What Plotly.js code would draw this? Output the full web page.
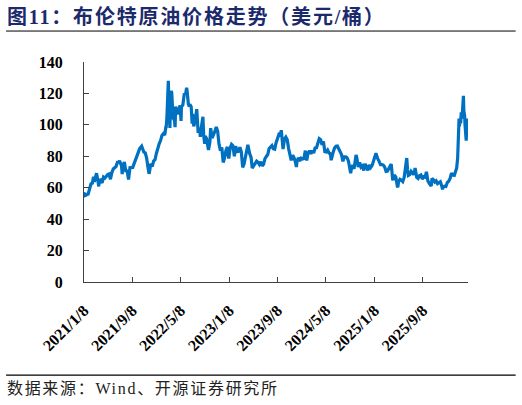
<!DOCTYPE html>
<html>
<head>
<meta charset="utf-8">
<script src="https://cdn.plot.ly/plotly-3.0.1.min.js"></script>
<style>
  html, body { margin: 0; padding: 0; background: #fff; }
  #chart { width: 522px; height: 405px; }
</style>
</head>
<body>
<div id="chart"></div>
<script>
// ---- Data: Brent crude price (USD/bbl) ----
const d2021 = ["01-08","01-13","01-15","01-22","01-29","02-05","02-12","02-19","02-25","03-01","03-08","03-12","03-19","03-23","03-26","04-01","04-09","04-16","04-23","04-30","05-07","05-14","05-21","05-28","06-04","06-11","06-18","06-25","07-02","07-06","07-09","07-16","07-19","07-23","07-30","08-06","08-13","08-20","08-27","09-03","09-10","09-17","09-24","10-01","10-08","10-15","10-25","10-29","11-05","11-12","11-19","11-26","12-01","12-03","12-10","12-17","12-24","12-31"];
const p2021 = [56.0,56.6,55.1,55.4,55.9,59.3,62.4,62.9,67.0,63.7,68.2,69.2,64.5,60.8,64.6,64.9,63.0,66.8,66.1,67.3,68.3,68.7,65.4,69.6,71.9,72.7,73.5,76.2,76.2,77.2,75.6,73.6,68.6,74.1,76.3,70.7,70.6,65.2,72.7,72.6,72.9,75.3,78.1,79.3,82.4,84.9,86.4,84.4,82.7,82.2,78.9,72.7,68.9,69.9,75.2,73.5,76.9,77.8];

const d2022 = ["01-07","01-14","01-21","01-28","02-04","02-11","02-18","02-24","02-25","03-01","03-04","03-08","03-11","03-16","03-18","03-23","03-25","04-01","04-08","04-11","04-14","04-22","04-29","05-06","05-11","05-13","05-20","05-27","06-03","06-08","06-10","06-17","06-22","06-24","07-01","07-06","07-08","07-14","07-22","07-29","08-05","08-12","08-16","08-19","08-29","09-02","09-07","09-09","09-16","09-23","09-26","10-03","10-07","10-14","10-21","10-28","11-04","11-11","11-18","11-25","12-02","12-09","12-16","12-23","12-30"];
const p2022 = [81.8,86.1,87.9,90.0,93.3,94.4,93.5,99.1,97.9,105.0,118.1,128.0,112.7,98.0,107.9,121.6,120.7,104.4,102.8,98.5,111.7,106.7,109.3,112.4,102.5,111.6,112.6,119.4,119.7,123.6,122.0,113.1,111.7,113.1,111.6,100.7,107.0,99.1,103.2,110.0,94.9,98.2,92.3,96.7,105.1,93.0,88.0,92.8,91.4,86.2,84.1,88.9,97.9,91.6,93.5,95.8,98.6,96.0,87.6,83.6,85.6,76.1,79.0,83.9,85.9];

const d2023 = ["01-06","01-13","01-20","01-27","02-03","02-10","02-17","02-24","03-03","03-10","03-17","03-24","03-31","04-06","04-12","04-21","04-28","05-04","05-12","05-19","05-26","06-02","06-09","06-16","06-23","06-30","07-07","07-14","07-21","07-28","08-04","08-11","08-18","08-25","09-01","09-08","09-15","09-22","09-27","10-06","10-13","10-20","10-27","11-03","11-10","11-16","11-24","12-01","12-08","12-12","12-15","12-22","12-29"];
const p2023 = [78.6,85.3,87.6,86.7,80.0,86.4,83.0,83.2,85.8,82.8,73.0,75.0,79.8,85.1,87.3,81.7,79.5,72.5,74.2,75.6,76.9,76.1,74.8,76.6,73.9,74.9,78.5,79.9,81.1,85.0,86.2,86.8,84.8,84.5,88.6,90.7,93.9,93.3,96.6,84.6,90.9,92.2,90.5,84.9,81.4,77.4,80.6,78.9,75.8,73.2,76.6,79.1,77.0];

const d2024 = ["01-05","01-12","01-19","01-26","02-02","02-09","02-16","02-23","03-01","03-08","03-15","03-22","03-28","04-05","04-12","04-19","04-26","05-03","05-10","05-17","05-24","05-31","06-04","06-07","06-14","06-21","06-28","07-05","07-12","07-19","07-26","08-02","08-09","08-16","08-23","08-30","09-06","09-10","09-13","09-20","09-27","10-04","10-07","10-11","10-18","10-25","11-01","11-08","11-15","11-22","11-29","12-06","12-13","12-20","12-27"];
const p2024 = [78.8,78.3,78.6,83.6,77.3,82.2,83.5,81.6,83.6,82.1,85.3,85.4,87.5,91.2,90.5,87.3,89.5,83.0,82.8,84.0,82.1,81.6,77.5,79.6,82.6,85.2,86.4,86.5,85.0,82.6,81.1,76.8,79.7,79.7,79.0,76.9,71.1,69.2,71.6,74.5,72.0,78.1,80.9,79.0,73.1,76.1,73.1,73.9,71.0,75.2,72.9,71.1,74.5,72.9,74.2];

const d2025 = ["01-03","01-10","01-15","01-17","01-24","01-31","02-07","02-14","02-21","02-28","03-07","03-14","03-21","03-28","04-02","04-09","04-11","04-17","04-25","05-02","05-05","05-09","05-16","05-23","05-30","06-06","06-13","06-19","06-23","06-27","07-04","07-11","07-18","07-25","07-31","08-08","08-15","08-22","08-29","09-05","09-12","09-19","09-26","10-03","10-10","10-17","10-20","10-24","10-31","11-07","11-14","11-21","11-28","12-05","12-12","12-16","12-19","12-26"];
const p2025 = [76.5,79.8,82.0,81.0,78.5,76.8,74.7,74.7,74.4,73.2,70.4,70.6,72.2,73.6,75.0,65.5,64.8,68.0,66.9,61.3,60.2,63.9,65.4,64.8,63.9,66.5,74.2,78.9,71.5,67.8,68.3,70.4,69.3,68.4,72.5,66.6,65.9,67.7,68.1,65.5,67.0,66.7,70.1,64.5,62.7,61.3,61.0,65.9,65.1,63.6,64.4,62.6,63.2,63.8,61.1,58.9,60.5,61.0];

const d2026 = ["01-02","01-09","01-16","01-23","01-30","02-06","02-13","02-20","02-25","03-02","03-04","03-06","03-09","03-11","03-13","03-17","03-20","03-24","03-27","03-31","04-02","04-06","04-08","04-10","04-14","04-16","04-20","04-22"];
const p2026 = [60.8,63.3,64.1,65.9,69.3,68.0,67.8,71.5,72.5,79.0,88.0,97.0,104.0,99.0,103.0,101.0,108.0,104.0,112.0,118.5,109.0,106.0,100.0,95.0,90.0,97.0,104.0,101.0];

const tickDates  = ["2021-01-08","2021-09-08","2022-05-08","2023-01-08","2023-09-08","2024-05-08","2025-01-08","2025-09-08"];
const tickLabels = ["2021/1/8","2021/9/8","2022/5/8","2023/1/8","2023/9/8","2024/5/8","2025/1/8","2025/9/8"];

const titleText  = "图11：布伦特原油价格走势（美元/桶）";
const sourceText = "数据来源：Wind、开源证券研究所";

// ---- Assemble series ----
const years = [[2021,d2021,p2021],[2022,d2022,p2022],[2023,d2023,p2023],[2024,d2024,p2024],[2025,d2025,p2025],[2026,d2026,p2026]];
const xs = [], ys = [];
years.forEach(([yr, ds, ps]) => { ds.forEach((d, i) => { xs.push(yr + "-" + d); ys.push(ps[i]); }); });

// ---- Layout geometry (pixels) ----
const W = 522, H = 405;
const L = 84, R = 468.3, T = 62, B = 282.3;
const px2x = px => (px - L) / (R - L);
const py2y = py => (B - py) / (B - T);

const serifCJK = "'Liberation Serif', 'Times New Roman', 'Noto Sans CJK SC', serif";

const trace = {
  x: xs, y: ys, type: "scatter", mode: "lines",
  line: { color: "#0070C0", width: 3.2 },
  cliponaxis: false,
  hoverinfo: "skip"
};

const axisCommon = {
  showline: true, linecolor: "#404040", linewidth: 1,
  ticks: "inside", ticklen: 5, tickcolor: "#404040", tickwidth: 1,
  showgrid: false, zeroline: false, automargin: false,
  tickfont: { family: "'Liberation Serif', 'Times New Roman', serif", size: 16, color: "#000", weight: "bold" }
};

const layout = {
  width: W, height: H,
  margin: { l: L, r: W - R, t: T, b: H - B, pad: 0 },
  paper_bgcolor: "#fff", plot_bgcolor: "#fff",
  showlegend: false,
  xaxis: Object.assign({}, axisCommon, {
    type: "date", range: ["2021-01-08", "2026-04-23"],
    tickmode: "array", tickvals: tickDates, ticktext: tickLabels,
    tickangle: -45, ticklabelstandoff: 12,
    tickfont: { family: "'Liberation Serif', 'Times New Roman', serif", size: 16, color: "#000", weight: "bold" }
  }),
  yaxis: Object.assign({}, axisCommon, {
    range: [0, 140], dtick: 20, tick0: 0, ticklabelstandoff: 17
  }),
  shapes: [
    { type: "line", xref: "paper", yref: "paper", x0: px2x(6), x1: px2x(516), y0: py2y(31), y1: py2y(31), line: { color: "#000", width: 1 } },
    { type: "line", xref: "paper", yref: "paper", x0: px2x(6), x1: px2x(516), y0: py2y(375.5), y1: py2y(375.5), line: { color: "#000", width: 1.2 } }
  ],
  annotations: [
    { text: titleText, xref: "paper", yref: "paper", x: px2x(6), y: py2y(17), xanchor: "left", yanchor: "middle", showarrow: false,
      font: { family: serifCJK, size: 20, color: "#1C2A6B", weight: "bold" } },
    { text: sourceText, xref: "paper", yref: "paper", x: px2x(6), y: py2y(389), xanchor: "left", yanchor: "middle", showarrow: false,
      font: { family: serifCJK, size: 16, color: "#222" } }
  ]
};

Plotly.newPlot("chart", [trace], layout, { displayModeBar: false, staticPlot: true }).then(gd => {
  // widen the character spacing of title and source note, keeping their left edge
  const texts = gd.querySelectorAll(".annotation-text");
  const spacing = ["1.8px", "1.7px"];
  const host = gd.getBoundingClientRect();
  texts.forEach((t, i) => {
    if (i > 1) return;
    t.style.letterSpacing = spacing[i];
    const r = t.getBoundingClientRect();
    const dx = (host.left + 7) - r.left;
    t.setAttribute("transform", "translate(" + dx.toFixed(1) + ",0)");
  });
});
</script>
</body>
</html>
